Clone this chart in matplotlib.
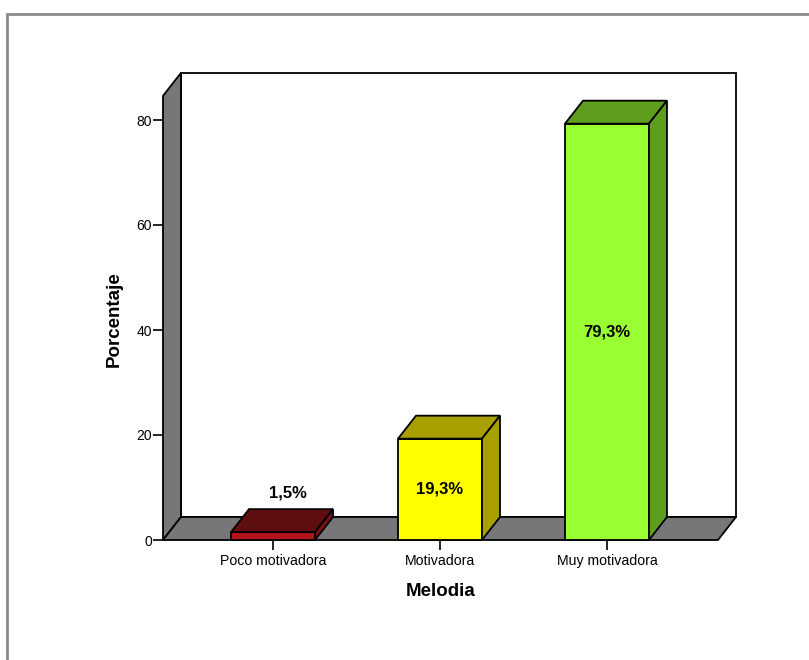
import matplotlib
matplotlib.use("Agg")
import matplotlib.pyplot as plt
from matplotlib.patches import Polygon, Rectangle

categories = ["Poco motivadora", "Motivadora", "Muy motivadora"]
values = [1.5, 19.3, 79.3]
labels = ["1,5%", "19,3%", "79,3%"]
front_colors = ["#B3141C", "#FFFF00", "#99FF33"]
top_colors = ["#5E0E10", "#A8A000", "#5E9E1E"]
side_colors = ["#7A1014", "#A8A000", "#5E9E1E"]
yticks = [0, 20, 40, 60, 80]

W, H = 809, 660
plt.rcParams['font.family'] = ['Liberation Sans', 'DejaVu Sans']
fig = plt.figure(figsize=(W / 100, H / 100), dpi=100)

# frame
fig.patches.append(Rectangle((7 / W, -0.01), 1.0, (H - 14) / H + 0.01, transform=fig.transFigure,
                             fill=False, edgecolor="#8a8a8a", lw=2, zorder=0))

left_px, right_px, bot_px, top_px = 163, 718, 540, 120
ax = fig.add_axes([left_px / W, (H - bot_px) / H, (right_px - left_px) / W, (bot_px - top_px) / H])
xmin, xmax = -0.659, 2.665
ax.set_xlim(xmin, xmax)
ax.set_ylim(0, 80)
for s in ax.spines.values():
    s.set_visible(False)
ax.set_facecolor("none")

px_x = (right_px - left_px) / (xmax - xmin)
px_y = (bot_px - top_px) / 80.0
dx = 18 / px_x
dy = 23 / px_y
ymax_wall = 84.6

ek = dict(edgecolor="black", lw=1.3, clip_on=False, joinstyle="miter")
# back wall
ax.add_patch(Polygon([(xmin + dx, dy), (xmax + dx, dy), (xmax + dx, ymax_wall + dy), (xmin + dx, ymax_wall + dy)],
                     facecolor="white", zorder=1, **ek))
# left wall
ax.add_patch(Polygon([(xmin, 0), (xmin, ymax_wall), (xmin + dx, ymax_wall + dy), (xmin + dx, dy)],
                     facecolor="#777777", zorder=2, **ek))
# floor
ax.add_patch(Polygon([(xmin, 0), (xmax, 0), (xmax + dx, dy), (xmin + dx, dy)],
                     facecolor="#777777", zorder=2, **ek))

bw = 84 / px_x
for i, (v, fc, tc, sc, lab) in enumerate(zip(values, front_colors, top_colors, side_colors, labels)):
    x0, x1 = i - bw / 2, i + bw / 2
    ax.add_patch(Polygon([(x0, 0), (x1, 0), (x1, v), (x0, v)], facecolor=fc, zorder=5, **ek))
    ax.add_patch(Polygon([(x0, v), (x1, v), (x1 + dx, v + dy), (x0 + dx, v + dy)], facecolor=tc, zorder=5, **ek))
    ax.add_patch(Polygon([(x1, 0), (x1 + dx, dy), (x1 + dx, v + dy), (x1, v)], facecolor=sc, zorder=5, **ek))
    if v < 5:
        ax.text(i + 0.09, v + 7.5, lab, ha="center", va="center", fontsize=12, fontweight="bold", zorder=6)
    else:
        ax.text(i, v / 2, lab, ha="center", va="center", fontsize=12, fontweight="bold", zorder=6)

ax.set_yticks(yticks)
ax.set_yticklabels([str(t) for t in yticks], fontsize=10)
ax.set_xticks(range(len(categories)))
ax.set_xticklabels(categories, fontsize=10.2)
ax.tick_params(axis="y", length=7, width=1.2, pad=1)
ax.tick_params(axis="x", length=7, width=1.2, pad=3, direction="out")
ax.set_ylabel("Porcentaje", fontsize=13.5, fontweight="bold")
ax.yaxis.set_label_coords(-0.073, 0.526)
ax.set_xlabel("Melodia", fontsize=13.5, fontweight="bold", labelpad=11)

fig.savefig("out.png", dpi=100)
